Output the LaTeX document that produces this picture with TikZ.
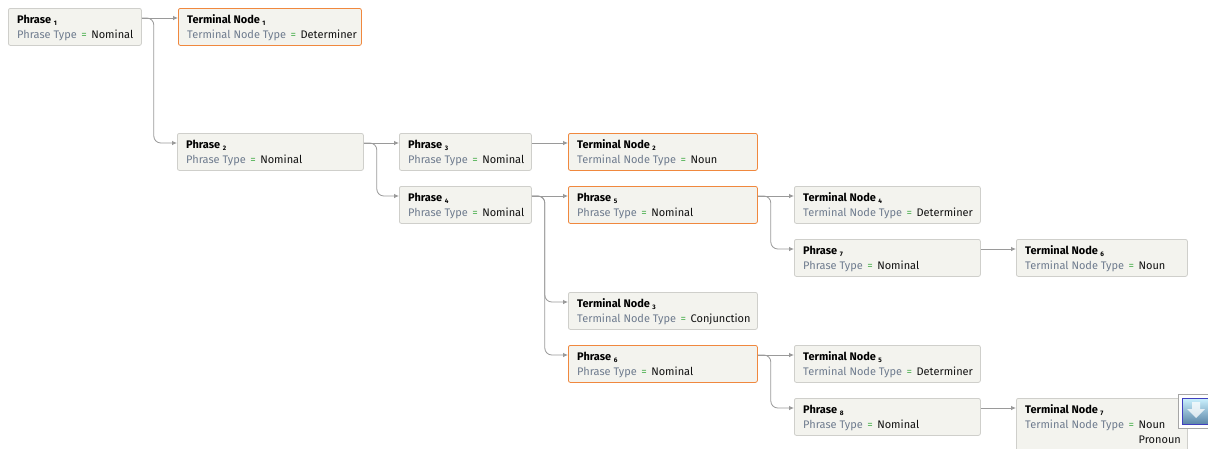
\documentclass[tikz,border=0pt]{standalone}
\usepackage{fontspec}
\setmainfont{Fira Sans}
\usetikzlibrary{arrows.meta}
\definecolor{boxfill}{HTML}{F3F3EE}
\definecolor{boxline}{HTML}{CFCFCB}
\definecolor{orangeline}{HTML}{F0883E}
\definecolor{keygray}{HTML}{6E7B8E}
\definecolor{eqgreen}{HTML}{4CB050}
\definecolor{valblack}{HTML}{111111}
\definecolor{connline}{HTML}{9A9A9A}
\newcommand\lbl[1]{\kern2.5pt\raisebox{-2pt}{\fontsize{6.5}{6.5}\selectfont\bfseries #1}}
\newcommand\eqsign{\kern4.5pt{\color{eqgreen}=}\kern4.5pt}
\tikzset{
  gbox/.style={draw=boxline, fill=boxfill, rounded corners=2pt, line width=0.8pt, anchor=north west, minimum height=37pt, inner sep=0pt},
  obox/.style={gbox, draw=orangeline},
  tl/.style={anchor=base west, inner sep=0pt, font=\fontsize{11}{13}\selectfont},
  conn/.style={draw=connline, line width=0.8pt, rounded corners=7pt, -{Latex[length=5pt,width=4.5pt]}}
}
\newcommand\gboxn[9]{%
  \node[#5, minimum width=#4pt] (#1) at (#2,#3) {};
  \node[tl] (#1t) at ([xshift=9pt,yshift=-15pt]#1.north west) {\textbf{#6}\lbl{#7}};
  \node[tl] (#1v) at ([xshift=9pt,yshift=-30pt]#1.north west) {\color{keygray}#8\eqsign\color{valblack}#9};
}
\begin{document}
\begin{tikzpicture}[x=1pt,y=-1pt]
\useasboundingbox (0,0) rectangle (1208,448);
\clip (0,0) rectangle (1208,448);
\fill[white] (0,0) rectangle (1208,448);
\gboxn{p1}{8}{8}{133}{gbox}{Phrase}{1}{Phrase Type}{Nominal}
\gboxn{tn1}{178}{8}{183}{obox}{Terminal Node}{1}{Terminal Node Type}{Determiner}
\gboxn{p2}{177}{133}{186}{gbox}{Phrase}{2}{Phrase Type}{Nominal}
\gboxn{p3}{399}{133}{132}{gbox}{Phrase}{3}{Phrase Type}{Nominal}
\gboxn{tn2}{568}{133}{189}{obox}{Terminal Node}{2}{Terminal Node Type}{Noun}
\gboxn{p4}{399}{186}{132}{gbox}{Phrase}{4}{Phrase Type}{Nominal}
\gboxn{p5}{568}{186}{189}{obox}{Phrase}{5}{Phrase Type}{Nominal}
\gboxn{tn4}{794}{186}{186}{gbox}{Terminal Node}{4}{Terminal Node Type}{Determiner}
\gboxn{p7}{794}{239}{186}{gbox}{Phrase}{7}{Phrase Type}{Nominal}
\gboxn{tn6}{1016}{239}{171}{gbox}{Terminal Node}{6}{Terminal Node Type}{Noun}
\gboxn{tn3}{568}{292}{189}{gbox}{Terminal Node}{3}{Terminal Node Type}{Conjunction}
\gboxn{p6}{568}{345}{189}{obox}{Phrase}{6}{Phrase Type}{Nominal}
\gboxn{tn5}{794}{345}{186}{gbox}{Terminal Node}{5}{Terminal Node Type}{Determiner}
\gboxn{p8}{794}{398}{186}{gbox}{Phrase}{8}{Phrase Type}{Nominal}
% terminal node 7 (taller box, cut at bottom)
\node[gbox, minimum width=171pt, minimum height=62pt] (tn7) at (1016,398) {};
\node[tl] (tn7t) at ([xshift=9pt,yshift=-15pt]tn7.north west) {\textbf{Terminal Node}\lbl{7}};
\node[tl] (tn7v) at ([xshift=9pt,yshift=-30pt]tn7.north west) {\color{keygray}Terminal Node Type\eqsign\color{valblack}\begin{tabular}[t]{@{}l@{}}Noun\\[2pt]Pronoun\end{tabular}};
% connectors
\draw[conn] ([yshift=-10pt]p1.north east) -- ([yshift=-10pt]tn1.north west);
\draw[conn] ([yshift=-10pt]p1.north east) -- ++(12,0) |- ([yshift=-10pt]p2.north west);
\draw[conn] ([yshift=-10pt]p2.north east) -- ([yshift=-10pt]p3.north west);
\draw[conn] ([yshift=-10pt]p2.north east) -- ++(13,0) |- ([yshift=-10pt]p4.north west);
\draw[conn] ([yshift=-10pt]p3.north east) -- ([yshift=-10pt]tn2.north west);
\draw[conn] ([yshift=-10pt]p4.north east) -- ([yshift=-10pt]p5.north west);
\draw[conn] ([yshift=-10pt]p4.north east) -- ++(13,0) |- ([yshift=-10pt]tn3.north west);
\draw[conn] ([yshift=-10pt]p4.north east) -- ++(13,0) |- ([yshift=-10pt]p6.north west);
\draw[conn] ([yshift=-10pt]p5.north east) -- ([yshift=-10pt]tn4.north west);
\draw[conn] ([yshift=-10pt]p5.north east) -- ++(13,0) |- ([yshift=-10pt]p7.north west);
\draw[conn] ([yshift=-10pt]p7.north east) -- ([yshift=-10pt]tn6.north west);
\draw[conn] ([yshift=-10pt]p6.north east) -- ([yshift=-10pt]tn5.north west);
\draw[conn] ([yshift=-10pt]p6.north east) -- ++(13,0) |- ([yshift=-10pt]p8.north west);
\draw[conn] ([yshift=-10pt]p8.north east) -- ([yshift=-10pt]tn7.north west);
% scroll button
\draw[draw=gray!70, fill=white, line width=0.8pt] (1178.5,394) rectangle (1212,428);
\shade[top color=blue!25!cyan!20!white, bottom color=blue!45!cyan!30!gray] (1182,398) rectangle (1212,424.5);
\draw[blue!50!gray, line width=0.6pt] (1182,398) rectangle (1212,424.5);
\fill[white, opacity=0.75] (1192,402) -- (1200,402) -- (1200,409) -- (1205,409) -- (1196,418) -- (1187,409) -- (1192,409) -- cycle;
\end{tikzpicture}
\end{document}
